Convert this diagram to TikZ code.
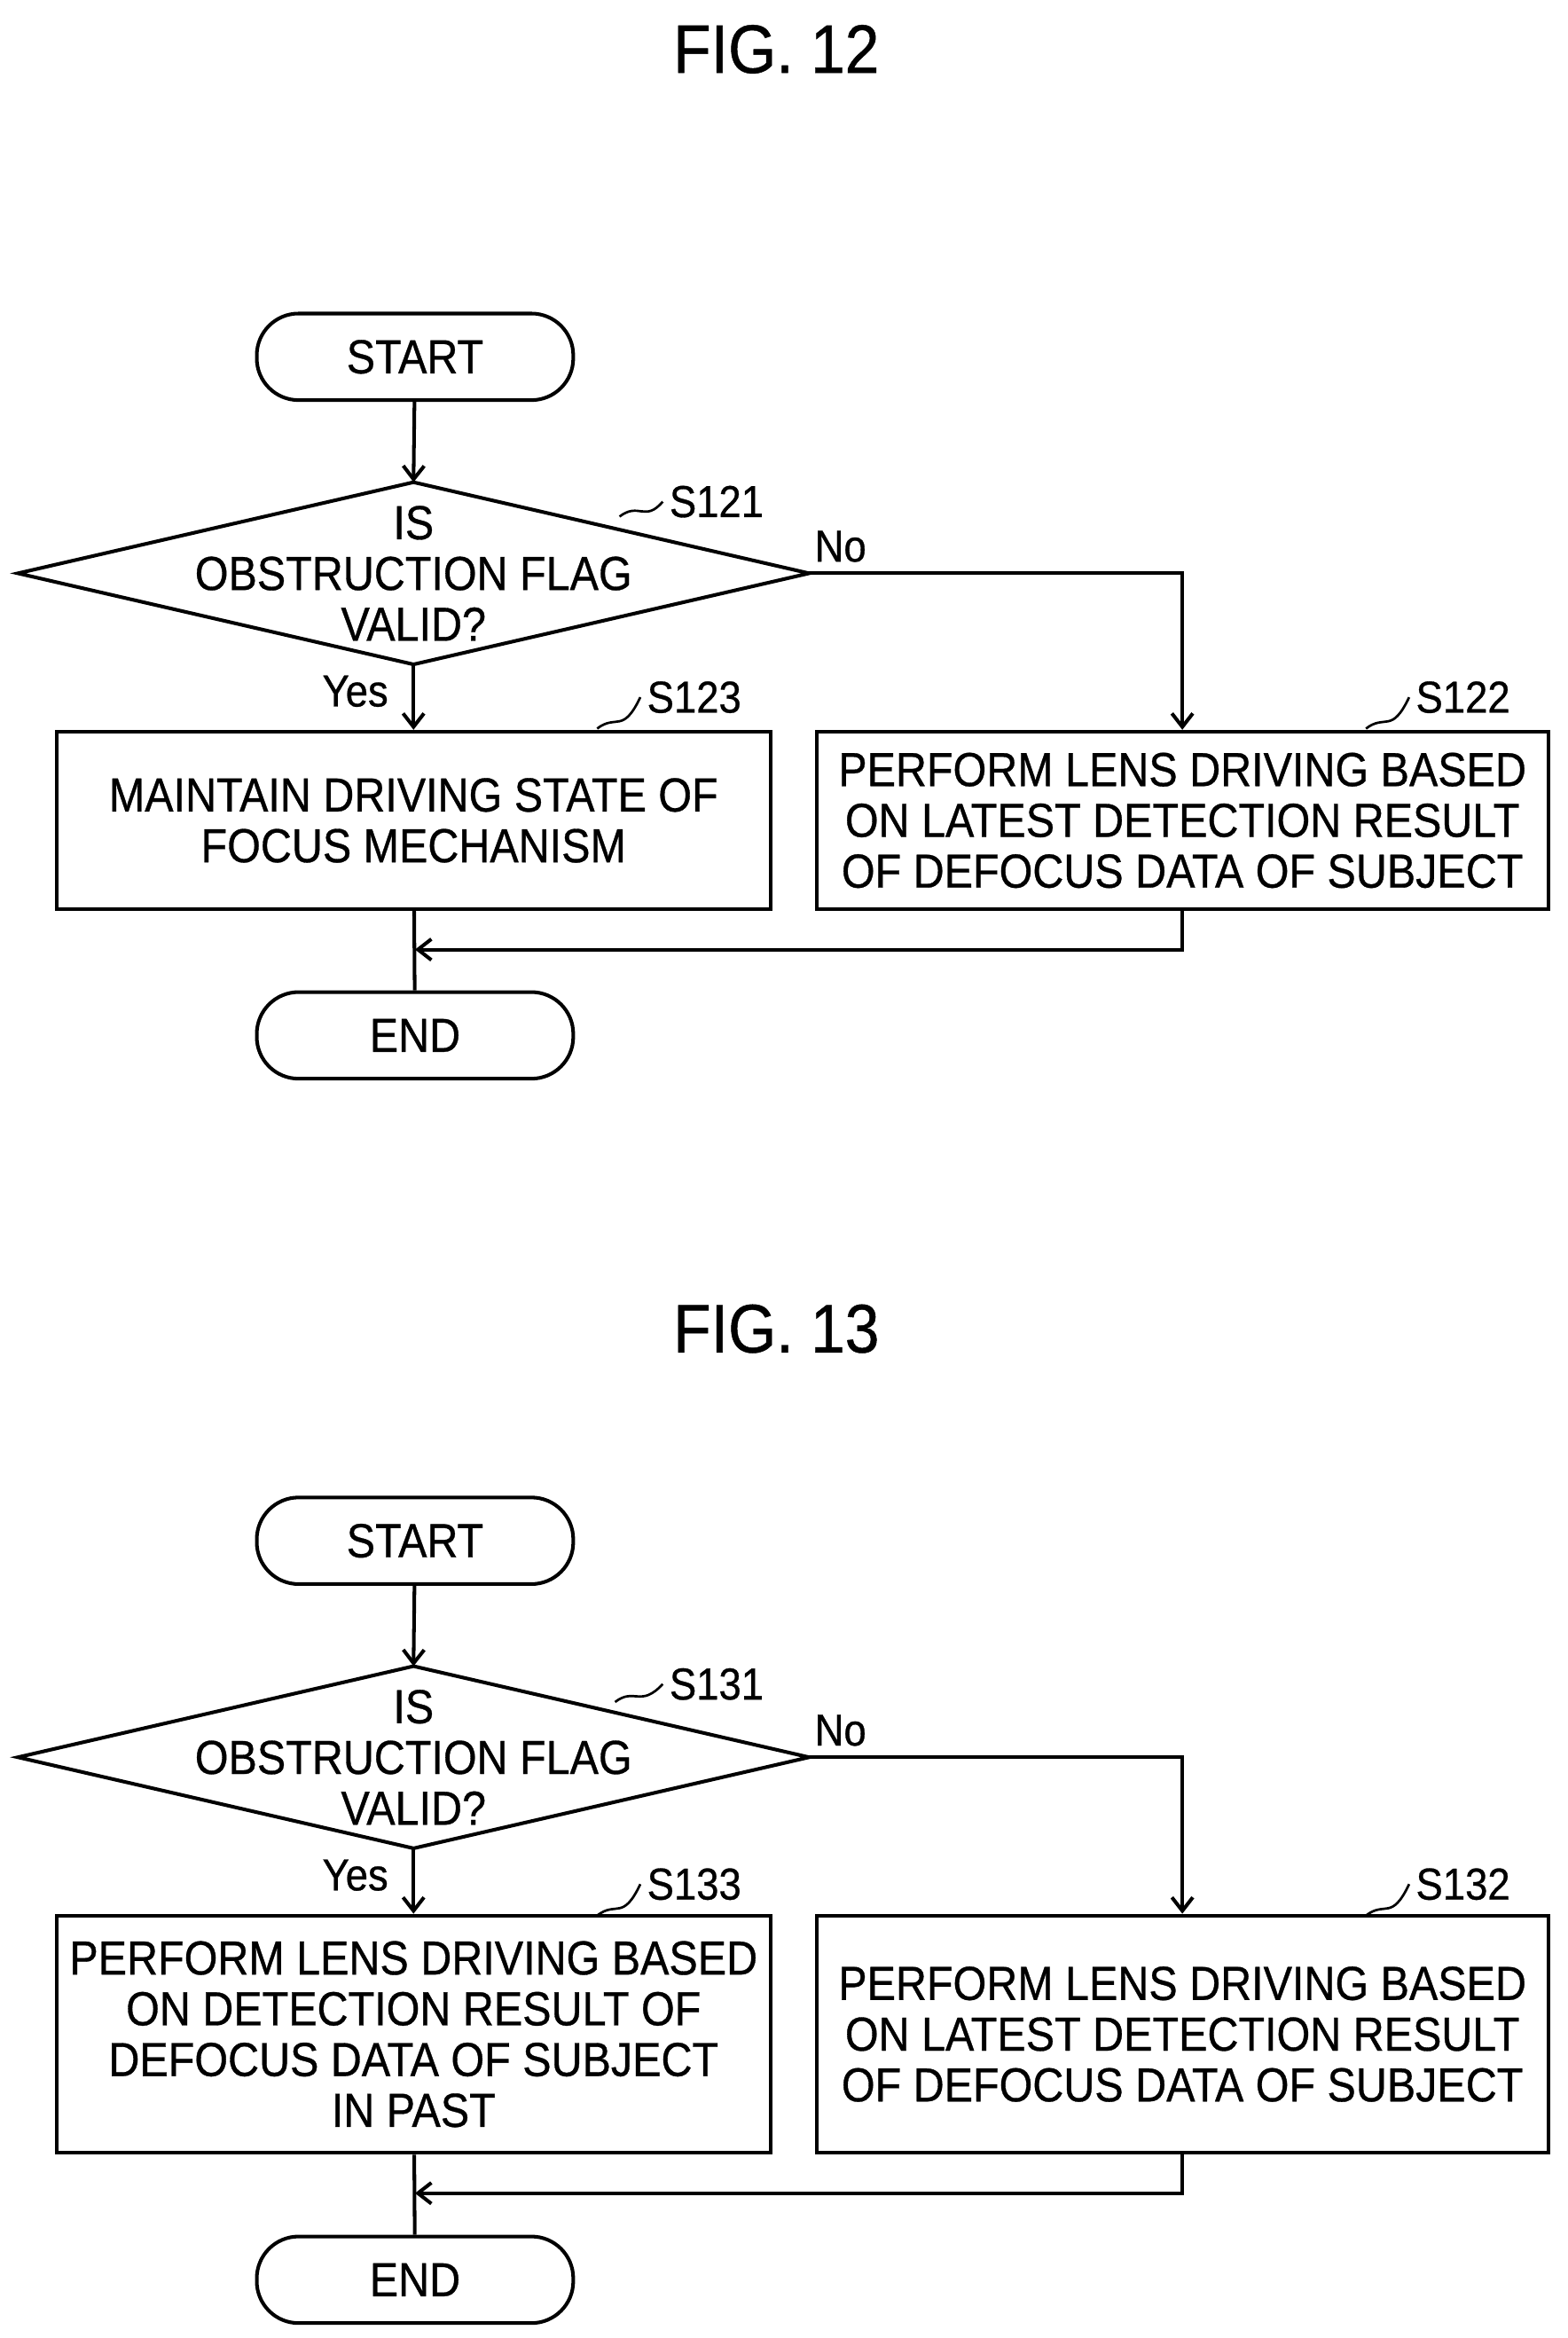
\documentclass[tikz,border=0pt]{standalone}
\usepackage{fontspec}
\setmainfont[FakeStretch=0.9,FakeBold=0.6]{Liberation Sans}
\usetikzlibrary{arrows.meta,calc}
\begin{document}
\begin{tikzpicture}[x=1pt,y=-1pt,line width=2.4pt,
 every node/.style={font=\fontsize{32}{34}\selectfont,align=center},
 term/.style={draw,rounded corners=28pt,minimum width=212pt,minimum height=58pt,inner sep=0pt},
 box/.style={draw,rectangle,inner sep=0pt},
 arr/.style={-{Straight Barb[length=9pt,width=14pt]}},
 lab/.style={font=\fontsize{30}{32}\selectfont},
 title/.style={font=\fontsize{46}{48}\selectfont}]
\useasboundingbox (0,0) rectangle (1050,1566);
% FIG 12
\node[title] (t12) at (520,33) {FIG. 12};
\node[term] (s1) at (278,239) {START};
\node (d1) at (277,384) {IS\\OBSTRUCTION FLAG\\VALID?};
\coordinate (d1n) at (277,323); \coordinate (d1s) at (277,445);
\coordinate (d1w) at (12,384); \coordinate (d1e) at (542,384);
\draw (d1n) -- (d1e) -- (d1s) -- (d1w) -- cycle;
\node[box,minimum width=478pt,minimum height=119pt] (b123) at (277,549.5) {MAINTAIN DRIVING STATE OF\\FOCUS MECHANISM};
\node[box,minimum width=490pt,minimum height=119pt] (b122) at (792,549.5) {PERFORM LENS DRIVING BASED\\ON LATEST DETECTION RESULT\\OF DEFOCUS DATA OF SUBJECT};
\node[term] (e1) at (278,693.5) {END};
\node[lab] (l121) at (480,336) {S121};
\node[lab] (l123) at (465,467) {S123};
\node[lab] (l122) at (980,467) {S122};
\node[lab] (no1) at (563,366) {No};
\node[lab] (yes1) at (238,463) {Yes};
\coordinate (m1) at (278,636);
\draw[arr] (s1) -- (d1n);
\draw[arr] (d1s) -- (b123);
\draw[arr] (d1e) -| (b122.north);
\draw (b123) -- (e1);
\draw[arr] (b122.south) |- (m1);
\draw[line width=1.6pt] (415,346) .. controls (428,336) and (432,350) .. (l121.west);
\draw[line width=1.6pt] (400,488) .. controls (413,478) and (417,492) .. (l123.west);
\draw[line width=1.6pt] (915,488) .. controls (928,478) and (932,492) .. (l122.west);
% FIG 13
\node[title] (t13) at (520,890) {FIG. 13};
\node[term] (s2) at (278,1032) {START};
\node (d2) at (277,1177) {IS\\OBSTRUCTION FLAG\\VALID?};
\coordinate (d2n) at (277,1116); \coordinate (d2s) at (277,1238);
\coordinate (d2w) at (12,1177); \coordinate (d2e) at (542,1177);
\draw (d2n) -- (d2e) -- (d2s) -- (d2w) -- cycle;
\node[box,minimum width=478pt,minimum height=159pt] (b133) at (277,1362.5) {PERFORM LENS DRIVING BASED\\ON DETECTION RESULT OF\\DEFOCUS DATA OF SUBJECT\\IN PAST};
\node[box,minimum width=490pt,minimum height=159pt] (b132) at (792,1362.5) {PERFORM LENS DRIVING BASED\\ON LATEST DETECTION RESULT\\OF DEFOCUS DATA OF SUBJECT};
\node[term] (e2) at (278,1527) {END};
\node[lab] (l131) at (480,1128) {S131};
\node[lab] (l133) at (465,1262) {S133};
\node[lab] (l132) at (980,1262) {S132};
\node[lab] (no2) at (563,1159) {No};
\node[lab] (yes2) at (238,1256) {Yes};
\coordinate (m2) at (278,1469);
\draw[arr] (s2) -- (d2n);
\draw[arr] (d2s) -- (b133);
\draw[arr] (d2e) -| (b132.north);
\draw (b133) -- (e2);
\draw[arr] (b132.south) |- (m2);
\draw[line width=1.6pt] (412,1140) .. controls (425,1130) and (429,1144) .. (l131.west);
\draw[line width=1.6pt] (400,1283) .. controls (413,1273) and (417,1287) .. (l133.west);
\draw[line width=1.6pt] (915,1283) .. controls (928,1273) and (932,1287) .. (l132.west);
\end{tikzpicture}
\end{document}
